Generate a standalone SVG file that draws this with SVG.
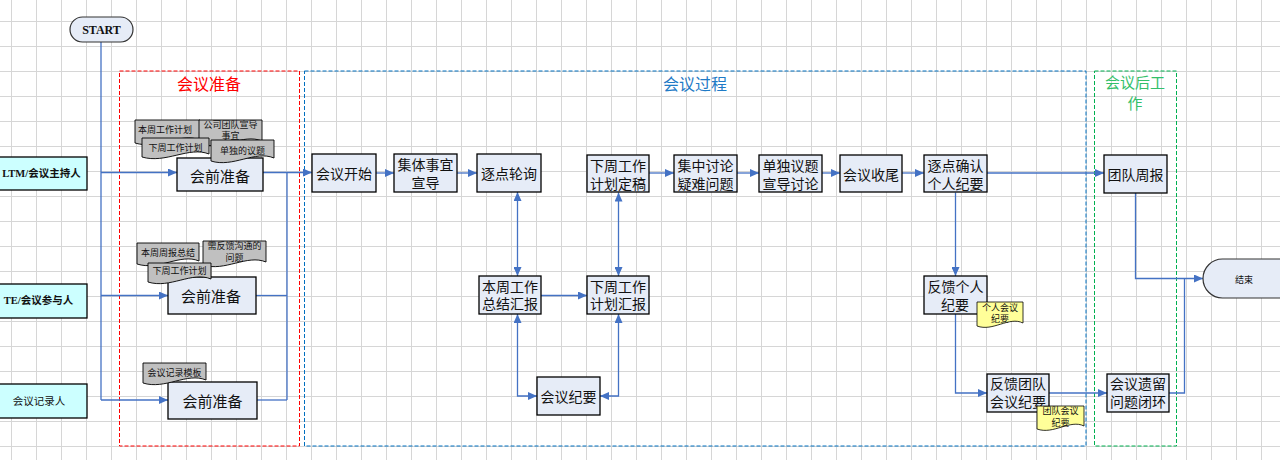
<svg xmlns="http://www.w3.org/2000/svg" width="1280" height="460" viewBox="0 0 1280 460">
<defs>
<pattern id="grid" width="25" height="25" patternUnits="userSpaceOnUse" x="11" y="21">
<path d="M0 0.5 H25 M0.5 0 V25" fill="none" stroke="#d6d6d6" stroke-width="1"/>
</pattern>
<marker id="arr" markerWidth="10" markerHeight="8" refX="9" refY="4" orient="auto-start-reverse" markerUnits="userSpaceOnUse">
<path d="M0 0 L9 4 L0 8 z" fill="#4472c4"/>
</marker>
<style>
.box{fill:#e6ecf7;stroke:#000;stroke-width:1.3}
.lane{fill:#ccffff;stroke:#000;stroke-width:1.3}
.doc{fill:#c0c0c0;stroke:#000;stroke-width:0.9}
.ydoc{fill:#ffff99;stroke:#000;stroke-width:0.8}
.t{font-family:"Noto Sans CJK SC","Noto Sans",sans-serif;font-size:14px;fill:#111;text-anchor:middle;dominant-baseline:central}
.ts{font-family:"Noto Sans CJK SC","Noto Sans",sans-serif;font-size:9px;fill:#111;text-anchor:middle;dominant-baseline:central}
.tl{font-family:"Liberation Serif","Noto Sans CJK SC",serif;font-size:10.5px;font-weight:bold;fill:#111;text-anchor:middle;dominant-baseline:central}
.tln{font-family:"Noto Sans CJK SC",sans-serif;font-size:10.5px;fill:#111;text-anchor:middle;dominant-baseline:central}
.title{font-family:"Noto Sans CJK SC",sans-serif;font-size:16px;text-anchor:middle;dominant-baseline:central}
.c{fill:none;stroke:#4472c4;stroke-width:1.3}
.ca{fill:none;stroke:#4472c4;stroke-width:1.3;marker-end:url(#arr)}
.cb{fill:none;stroke:#4472c4;stroke-width:1.3;marker-end:url(#arr);marker-start:url(#arr)}
</style>
</defs>
<rect x="0" y="0" width="1280" height="460" fill="#fff"/>
<rect x="0" y="0" width="1280" height="460" fill="url(#grid)"/>

<g id="containers">
<g id="c-prep">
<rect x="119.5" y="71" width="180" height="375" fill="none" stroke="#ff0000" stroke-width="1" stroke-dasharray="4 2"/>
<text class="title" x="209" y="83" fill="#ff0000">会议准备</text>
</g>
<g id="c-process">
<rect x="304.5" y="71" width="781.5" height="375" fill="none" stroke="#0070c0" stroke-width="1" stroke-dasharray="4 2"/>
<text class="title" x="695" y="83" fill="#1f7bc6">会议过程</text>
</g>
<g id="c-after">
<rect x="1094.5" y="71" width="82" height="375" fill="none" stroke="#00b050" stroke-width="1" stroke-dasharray="4 2"/>
<text class="title" x="1135" y="81" fill="#33c06a" style="font-size:15px">会议后工</text>
<text class="title" x="1135" y="102" fill="#33c06a" style="font-size:15px">作</text>
</g>
</g>

<g id="connectors">
<path class="c" d="M101 42 V400"/>
<path class="ca" d="M101 172.5 H177"/>
<path class="ca" d="M101 295.5 H168"/>
<path class="ca" d="M101 400 H168"/>
<path class="ca" d="M263 172.5 H312"/>
<path class="c" d="M287 172.5 V400"/>
<path class="c" d="M256 295.5 H287"/>
<path class="c" d="M257 400 H287"/>
<path class="ca" d="M376 173 H394"/>
<path class="ca" d="M457 173 H477"/>
<path class="cb" d="M517.5 192 V276"/>
<path class="ca" d="M541 295.5 H587"/>
<path class="cb" d="M618.5 192.5 V276"/>
<path class="cb" d="M517.5 314 V396 H537"/>
<path class="cb" d="M618.5 314 V396 H600"/>
<path class="ca" d="M649 173 H674"/>
<path class="ca" d="M737 173 H759"/>
<path class="ca" d="M822 173 H840"/>
<path class="ca" d="M902 173 H924"/>
<path class="ca" d="M987 173 H1104"/>
<path class="ca" d="M955.5 192.5 V276"/>
<path class="ca" d="M955.5 314 V393 H987"/>
<path class="ca" d="M1049 393 H1107"/>
<path class="ca" d="M1135.5 193 V278.5 H1203"/>
<path class="c" d="M1169 393 H1184.5 V278.5"/>
</g>

<g id="start">
<rect x="70" y="17" width="63" height="25" rx="12.5" fill="#e6ecf7" stroke="#333" stroke-width="1.2"/>
<text class="tl" x="101.5" y="29.5" style="font-size:12px">START</text>
</g>
<g id="end">
<rect x="1203" y="259" width="110" height="39" rx="19.5" fill="#e6ecf7" stroke="#333" stroke-width="1.2"/>
<text class="ts" x="1244" y="279">结束</text>
</g>

<g id="lane-ltm">
<rect class="lane" x="-10" y="157" width="97" height="33"/>
<text class="tl" x="41.5" y="173.5">LTM/会议主持人</text>
</g>
<g id="lane-te">
<rect class="lane" x="-10" y="284" width="97" height="34"/>
<text class="tl" x="38.5" y="300.5">TE/会议参与人</text>
</g>
<g id="lane-rec">
<rect class="lane" x="-10" y="384" width="97" height="34"/>
<text class="tln" x="39" y="400.5">会议记录人</text>
</g>

<g id="prep1">
<rect class="box" x="177" y="158" width="86" height="33"/>
<text class="t" x="220" y="175.5" style="font-size:15px">会前准备</text>
<path class="doc" d="M135 120 h65 v20 c-19.5 -8 -42 10 -65 3 z"/>
<text class="ts" x="165" y="129.5">本周工作计划</text>
<path class="doc" d="M199 120 h63 v21 c-19 -8 -41 10 -63 3 z"/>
<text class="ts" x="230.5" y="124">公司团队宣导</text>
<text class="ts" x="230.5" y="135.5">事宜</text>
<path class="doc" d="M142 138 h67 v16 c-20 -8 -43.5 10 -67 3 z"/>
<text class="ts" x="175.5" y="147.5">下周工作计划</text>
<path class="doc" d="M211 140 h63 v18 c-19 -8 -41 10 -63 3 z"/>
<text class="ts" x="242.5" y="150">单独的议题</text>
</g>

<g id="prep2">
<rect class="box" x="168" y="277" width="88" height="37"/>
<text class="t" x="211" y="295.5" style="font-size:15px">会前准备</text>
<path class="doc" d="M137 243 h62 v18 c-18.6 -8 -40 10 -62 3 z"/>
<text class="ts" x="168" y="252.5">本周周报总结</text>
<path class="doc" d="M203 241 h63 v21 c-19 -8 -41 10 -63 3 z"/>
<text class="ts" x="234.5" y="245.5">需反馈沟通的</text>
<text class="ts" x="234.5" y="257">问题</text>
<path class="doc" d="M148 263 h63 v16 c-19 -8 -41 10 -63 3 z"/>
<text class="ts" x="179.5" y="270">下周工作计划</text>
</g>

<g id="prep3">
<rect class="box" x="168" y="382" width="89" height="37"/>
<text class="t" x="212.5" y="400.5" style="font-size:15px">会前准备</text>
<path class="doc" d="M143 363 h63 v17 c-19 -8 -41 10 -63 3 z"/>
<text class="ts" x="174.5" y="372.5">会议记录模板</text>
</g>

<g id="n-start-meeting">
<rect class="box" x="312" y="154" width="64" height="38"/>
<text class="t" x="344" y="173">会议开始</text>
</g>
<g id="n-collective">
<rect class="box" x="394" y="154" width="63" height="38"/>
<text class="t" x="425.5" y="164">集体事宜</text>
<text class="t" x="425.5" y="182">宣导</text>
</g>
<g id="n-poll">
<rect class="box" x="477" y="154" width="64" height="38"/>
<text class="t" x="509" y="173">逐点轮询</text>
</g>
<g id="n-plan-final">
<rect class="box" x="587" y="155" width="62" height="37"/>
<text class="t" x="618" y="164.5">下周工作</text>
<text class="t" x="618" y="182.5">计划定稿</text>
</g>
<g id="n-summary">
<rect class="box" x="479" y="276" width="62" height="38"/>
<text class="t" x="510" y="285.5">本周工作</text>
<text class="t" x="510" y="303">总结汇报</text>
</g>
<g id="n-plan-report">
<rect class="box" x="587" y="276" width="62" height="38"/>
<text class="t" x="618" y="285.5">下周工作</text>
<text class="t" x="618" y="303">计划汇报</text>
</g>
<g id="n-minutes">
<rect class="box" x="537" y="377" width="63" height="38"/>
<text class="t" x="568.5" y="396">会议纪要</text>
</g>
<g id="n-discuss">
<rect class="box" x="674" y="155" width="63" height="37"/>
<text class="t" x="705.5" y="164.5">集中讨论</text>
<text class="t" x="705.5" y="182.5">疑难问题</text>
</g>
<g id="n-single">
<rect class="box" x="759" y="155" width="63" height="37"/>
<text class="t" x="790.5" y="164.5">单独议题</text>
<text class="t" x="790.5" y="182.5">宣导讨论</text>
</g>
<g id="n-wrap">
<rect class="box" x="840" y="155" width="62" height="37"/>
<text class="t" x="871" y="173.5">会议收尾</text>
</g>
<g id="n-confirm">
<rect class="box" x="924" y="155" width="63" height="37"/>
<text class="t" x="955.5" y="164.5">逐点确认</text>
<text class="t" x="955.5" y="182.5">个人纪要</text>
</g>
<g id="n-feedback-personal">
<rect class="box" x="924" y="276" width="63" height="38"/>
<text class="t" x="955.5" y="286">反馈个人</text>
<text class="t" x="955" y="303.5">纪要</text>
<path class="ydoc" d="M977 302 h46 v21 c-14 -7 -30 9 -46 3 z"/>
<text class="ts" x="1000" y="307">个人会议</text>
<text class="ts" x="1000" y="318">纪要</text>
</g>
<g id="n-feedback-team">
<rect class="box" x="987" y="374" width="62" height="38"/>
<text class="t" x="1018" y="383">反馈团队</text>
<text class="t" x="1018" y="400.5">会议纪要</text>
<path class="ydoc" d="M1037 406 h47 v20 c-14 -7 -30.5 9 -47 3 z"/>
<text class="ts" x="1060.5" y="410.5">团队会议</text>
<text class="ts" x="1060.5" y="422">纪要</text>
</g>
<g id="n-weekly">
<rect class="box" x="1104" y="155" width="63" height="38"/>
<text class="t" x="1135.5" y="173.5">团队周报</text>
</g>
<g id="n-legacy">
<rect class="box" x="1107" y="374" width="62" height="38"/>
<text class="t" x="1138" y="383">会议遗留</text>
<text class="t" x="1138" y="400.5">问题闭环</text>
</g>
</svg>
